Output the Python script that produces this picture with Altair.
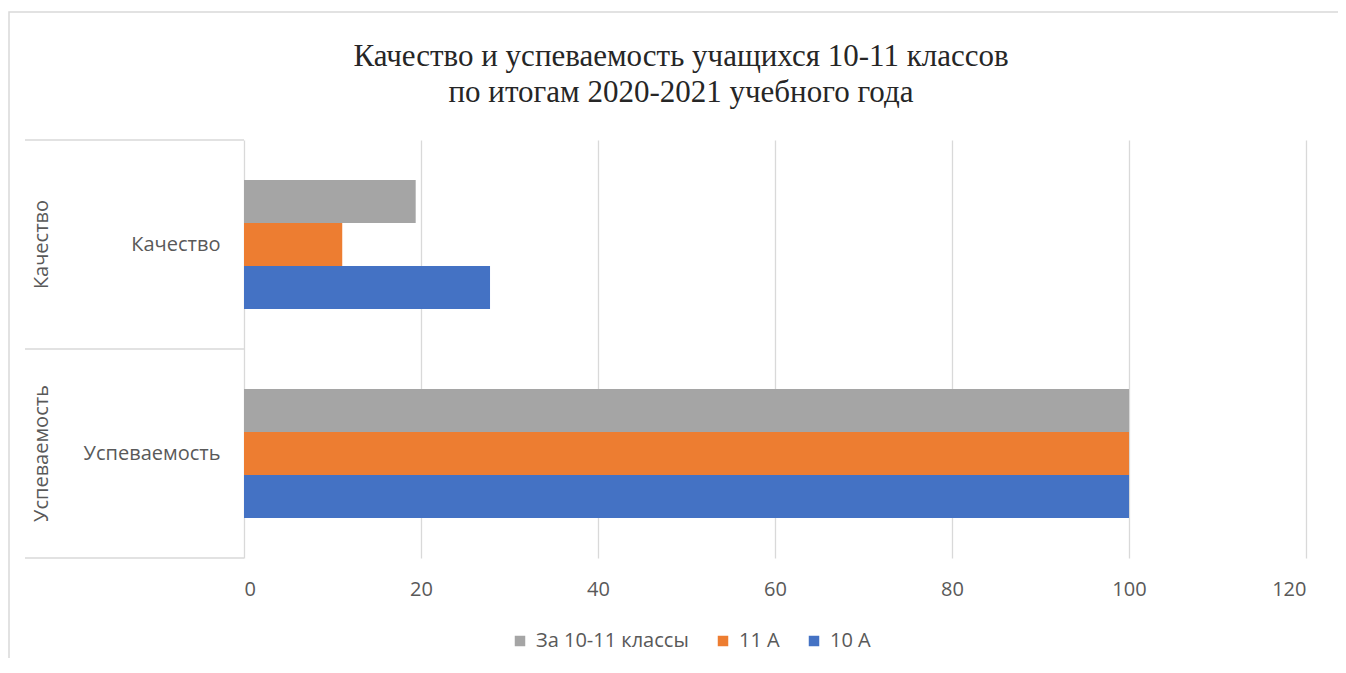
import altair as alt
import pandas as pd

categories = ["Качество", "Успеваемость"]
series = ["За 10-11 классы", "11 А", "10 А"]
colors = ["#A5A5A5", "#ED7D31", "#4472C4"]
values_total = [19.4, 100]
values_11a = [11.1, 100]
values_10a = [27.8, 100]
x_ticks = [0, 20, 40, 60, 80, 100, 120]
title_lines = ["Качество и успеваемость учащихся 10-11  классов", "по итогам 2020-2021  учебного года"]

rows = []
for s, vals in zip(series, [values_total, values_11a, values_10a]):
    for c, v in zip(categories, vals):
        rows.append({"Показатель": c, "Класс": s, "Значение": v})
df = pd.DataFrame(rows)
cat_df = pd.DataFrame({"Показатель": categories})
last_df = pd.DataFrame({"Показатель": categories[-1:]})
one_df = pd.DataFrame({"k": [0]})

FONT = "Open Sans"
GRAY = "#595959"
LINE = "#d9d9d9"
FS = 20

yscale = alt.Scale(domain=categories, paddingInner=0, paddingOuter=0)

bars = alt.Chart(df).mark_bar().encode(
    y=alt.Y("Показатель:N", sort=categories, scale=yscale,
            axis=alt.Axis(title=None, ticks=False, domain=False, labelPadding=24,
                          labelFontSize=FS, labelColor=GRAY, labelFont=FONT)),
    yOffset=alt.YOffset("Класс:N", sort=series,
                        scale=alt.Scale(domain=series, paddingInner=0, paddingOuter=0.93)),
    x=alt.X("Значение:Q", scale=alt.Scale(domain=[0, 120]),
            axis=alt.Axis(title=None, values=x_ticks, ticks=False, domain=False,
                          labelPadding=21, labelFontSize=FS, labelColor=GRAY,
                          labelFont=FONT, gridColor=LINE, gridWidth=1.3)),
    color=alt.Color("Класс:N", sort=series,
                    scale=alt.Scale(domain=series, range=colors),
                    legend=alt.Legend(title=None, orient="none", direction="horizontal",
                                      legendX=266, legendY=491, symbolType="square",
                                      symbolSize=110, symbolStrokeWidth=0,
                                      labelFontSize=20, labelColor=GRAY, labelFont=FONT,
                                      labelOffset=6, columnPadding=24)),
)

sep_top = alt.Chart(cat_df).mark_rule(color=LINE, strokeWidth=1.5).encode(
    y=alt.Y("Показатель:N", sort=categories, scale=yscale, bandPosition=0),
    x=alt.value(-219), x2=alt.value(0),
)
sep_bottom = alt.Chart(last_df).mark_rule(color=LINE, strokeWidth=1.5).encode(
    y=alt.Y("Показатель:N", sort=categories, scale=yscale, bandPosition=1),
    x=alt.value(-219), x2=alt.value(0),
)
outer_labels = alt.Chart(cat_df).mark_text(
    angle=270, fontSize=FS, color=GRAY, font=FONT, align="center", baseline="middle"
).encode(
    y=alt.Y("Показатель:N", sort=categories, scale=yscale, bandPosition=0.5),
    x=alt.value(-202),
    text="Показатель:N",
)
frame = alt.Chart(one_df).mark_rect(fill=None, stroke=LINE, strokeWidth=1.5).encode(
    x=alt.value(-235), x2=alt.value(1096), y=alt.value(-128), y2=alt.value(532),
)
title = alt.Chart(one_df).mark_text(
    font="Liberation Serif", fontSize=31, color="#262626", align="center",
    baseline="alphabetic", lineHeight=36,
).encode(
    x=alt.value(437), y=alt.value(-74), text=alt.value(title_lines),
)

chart = alt.layer(frame, bars, sep_top, sep_bottom, outer_labels, title).properties(
    width=1062, height=418,
    autosize=alt.AutoSizeParams(type="none"),
    padding={"left": 236, "top": 132, "right": 32, "bottom": 100},
).configure_view(stroke=None)

chart.save("out.html", embed_options={"renderer": "svg", "actions": False})
